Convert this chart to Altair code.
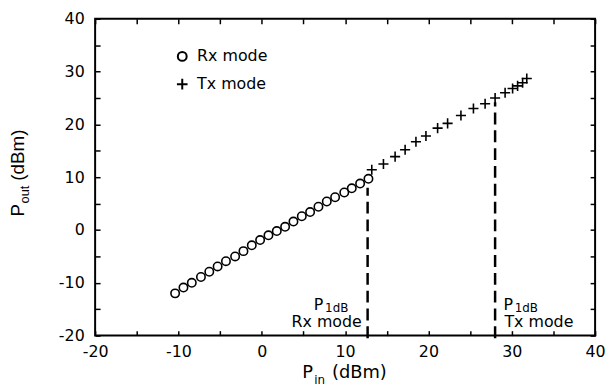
import altair as alt
import pandas as pd

# Measured data
rx_pin = [-10.4, -9.4, -8.4, -7.3, -6.3, -5.3, -4.3, -3.2, -2.2, -1.2, -0.2, 0.8,
          1.8, 2.8, 3.8, 4.8, 5.8, 6.8, 7.8, 8.8, 9.9, 10.8, 11.8, 12.8]
rx_pout = [-12.0, -10.9, -10.0, -8.9, -7.9, -6.9, -5.9, -5.0, -4.0, -2.9, -1.9, -1.0,
           -0.2, 0.6, 1.6, 2.6, 3.4, 4.4, 5.4, 6.2, 7.1, 7.9, 8.8, 9.7]
tx_pin = [13.2, 14.6, 16.0, 17.2, 18.5, 19.7, 21.1, 22.3, 23.9, 25.4, 26.8, 28.0,
          29.2, 30.1, 30.7, 31.3, 31.8]
tx_pout = [11.4, 12.5, 13.9, 15.2, 16.7, 17.8, 19.3, 20.2, 21.7, 23.0, 23.9, 25.0,
           26.0, 26.8, 27.3, 27.9, 28.7]
modes = ["Rx mode", "Tx mode"]
p1db_pin = [12.7, 28.0]
p1db_top = [8.0, 24.2]
x_ticks = [-20, -10, 0, 10, 20, 30, 40]
y_ticks = [-20, -10, 0, 10, 20, 30, 40]
minor_ticks = list(range(-20, 41, 5))

W, H = 505, 320
FONT = "DejaVu Sans"
MINUS_FIX = "replace(datum.label, '\u2212', '-')"

df = pd.DataFrame({
    "pin": rx_pin + tx_pin,
    "pout": rx_pout + tx_pout,
    "mode": [modes[0]] * len(rx_pin) + [modes[1]] * len(tx_pin),
})
lines = pd.DataFrame({"pin": p1db_pin, "top": p1db_top, "bottom": [-20.5, -20.5]})

xs = alt.Scale(domain=[-20, 40], nice=False, zero=False)
ys = alt.Scale(domain=[-20, 40], nice=False, zero=False)

lab_x = alt.Axis(values=x_ticks, ticks=False, domain=False, grid=False, title=None,
                 labelFont=FONT, labelFontSize=16, labelColor="black", labelPadding=8,
                 labelFlush=False, labelExpr=MINUS_FIX)
lab_y = alt.Axis(values=y_ticks, ticks=False, domain=False, grid=False, title=None,
                 labelFont=FONT, labelFontSize=16, labelColor="black", labelPadding=11,
                 labelExpr=MINUS_FIX)

def tick_axis(orient, offset):
    return alt.Axis(orient=orient, offset=offset, values=minor_ticks, labels=False,
                    domain=False, grid=False, title=None, ticks=True, tickSize=5,
                    tickWidth=1.5, tickColor="black")

points = alt.Chart(df).mark_point(filled=False, strokeWidth=1.6, color="black", opacity=1,
                                  size=72).encode(
    x=alt.X("pin:Q", scale=xs, axis=lab_x),
    y=alt.Y("pout:Q", scale=ys, axis=lab_y),
    shape=alt.Shape("mode:N",
                    scale=alt.Scale(domain=modes, range=["circle", "M-1.2,0H1.2M0,-1.2V1.2"]),
                    legend=alt.Legend(title=None, orient="none", legendX=80, legendY=30,
                                      labelFont=FONT, labelFontSize=16, labelColor="black",
                                      symbolSize=80, symbolStrokeWidth=2,
                                      symbolStrokeColor="black", symbolType="circle",
                                      symbolFillColor="transparent", labelOffset=7,
                                      rowPadding=9, padding=0)),
)

rules = alt.Chart(lines).mark_rule(color="black", strokeWidth=2.5, strokeDash=[12, 6]).encode(
    x=alt.X("pin:Q", scale=xs, axis=tick_axis("top", -H)),
    y=alt.Y("bottom:Q", scale=ys, axis=tick_axis("right", -W)),
    y2="top:Q",
)

ann = pd.DataFrame({
    "x": [12.0, 29.12],
    "y": [-18.45, -18.45],
    "t": ["Rx mode", "Tx mode"],
})
rx_lab = alt.Chart(ann.iloc[[0]]).mark_text(font=FONT, fontSize=16, color="black",
                                             baseline="alphabetic", align="right").encode(
    x=alt.X("x:Q", scale=xs, axis=tick_axis("bottom", -H)),
    y=alt.Y("y:Q", scale=ys, axis=tick_axis("left", -W)),
    text="t:N",
)
tx_lab = alt.Chart(ann.iloc[[1]]).mark_text(font=FONT, fontSize=16, color="black",
                                             baseline="alphabetic", align="left").encode(
    x=alt.X("x:Q", scale=xs, axis=None),
    y=alt.Y("y:Q", scale=ys, axis=None),
    text="t:N",
)
pdf = pd.DataFrame({"x": [6.25, 29.0], "y": [-15.1, -15.1], "t": ["P", "P"]})
sdf = pd.DataFrame({"x": [7.6, 30.35], "y": [-15.6, -15.6], "t": ["1dB", "1dB"]})
p_lab = alt.Chart(pdf).mark_text(font=FONT, fontSize=16, color="black", baseline="alphabetic",
                                 align="left").encode(
    x=alt.X("x:Q", scale=xs, axis=None), y=alt.Y("y:Q", scale=ys, axis=None), text="t:N")
s_lab = alt.Chart(sdf).mark_text(font=FONT, fontSize=12, color="black", baseline="alphabetic",
                                 align="left").encode(
    x=alt.X("x:Q", scale=xs, axis=None), y=alt.Y("y:Q", scale=ys, axis=None), text="t:N")

# Axis titles with subscripts
def tpiece(txt, x, y, size, angle=0, font=FONT):
    return alt.Chart(pd.DataFrame({"t": [txt]})).mark_text(
        font=font, fontSize=size, color="black", baseline="alphabetic", align="left", angle=angle
    ).encode(x=alt.value(x), y=alt.value(y), text="t:N")

xt1 = tpiece("P", 209.3, 362.7, 18)
xt2 = tpiece("in", 221.3, 368.7, 12)
xt3 = tpiece("(dBm)", 239.3, 362.7, 18)
yt1 = tpiece("P", -71.7, 199.7, 19, 270, "Liberation Sans")
yt2 = tpiece("out", -67.2, 186.5, 13, 270, "Liberation Sans")
yt3 = tpiece("(dBm)", -71.7, 163.5, 19, 270, "Liberation Sans")

chart = alt.layer(points, rules, rx_lab, tx_lab, p_lab, s_lab,
                  xt1, xt2, xt3, yt1, yt2, yt3).resolve_axis(
    x="independent", y="independent"
).properties(
    width=W, height=H,
    autosize=alt.AutoSizeParams(type="none"),
    padding={"left": 88, "top": 9, "right": 10, "bottom": 50},
).configure_view(stroke="black", strokeWidth=2)

chart.save("out.html", embed_options={"renderer": "svg", "actions": False})
